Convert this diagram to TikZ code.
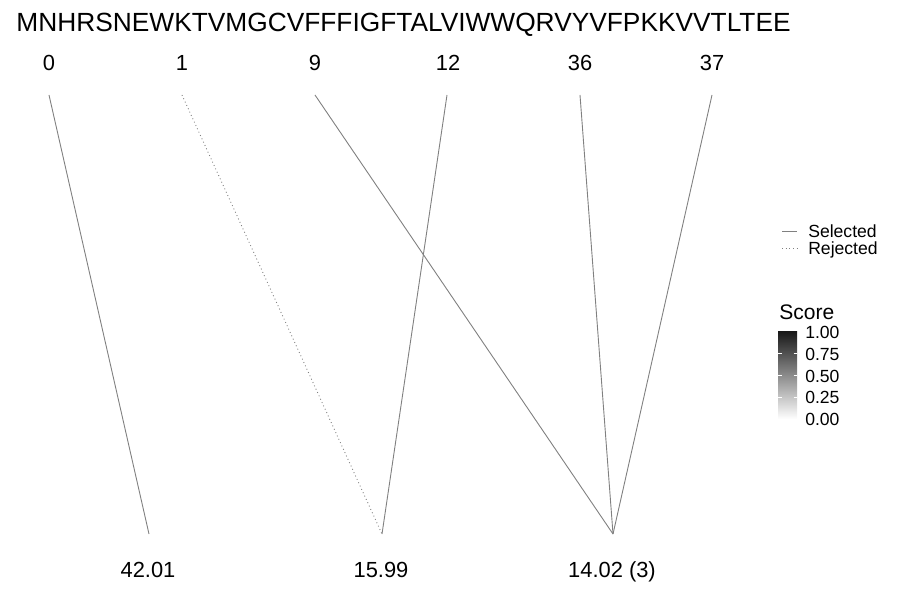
\documentclass[tikz,border=0pt]{standalone}
\usepackage{fontspec}
\setmainfont{Liberation Sans}
\begin{document}
\begin{tikzpicture}[x=0.01in, y=-0.01in,
  seq style/.style={inner sep=0pt, text depth=0pt, font=\fontsize{19}{21}\selectfont},
  pos style/.style={inner sep=0pt, text depth=0pt, font=\fontsize{15.8}{18}\selectfont},
  leg style/.style={inner sep=0pt, text depth=0pt, anchor=west, font=\fontsize{12.7}{14}\selectfont},
  sel/.style={draw=black!50, line width=0.65pt},
  rej/.style={draw=black!50, line width=0.65pt, dotted}]
	\useasboundingbox (0,0) rectangle (900,600);
	\node[seq style] (seq) at (403.5,22) {MNHRSNEWKTVMGCVFFFIGFTALVIWWQRVYVFPKKVVTLTEE};
	% positions
	\node[pos style] (P0) at (49,63) {0};
	\node[pos style] (P1) at (182,63) {1};
	\node[pos style] (P9) at (315,63) {9};
	\node[pos style] (P12) at (448,63) {12};
	\node[pos style] (P36) at (580,63) {36};
	\node[pos style] (P37) at (712,63) {37};
	\coordinate (T0) at (49,95);
	\coordinate (T1) at (182,95);
	\coordinate (T9) at (315,95);
	\coordinate (T12) at (447,95);
	\coordinate (T36) at (580,95);
	\coordinate (T37) at (712,95);
	% masses
	\node[pos style] (M1) at (148,570) {42.01};
	\node[pos style] (M2) at (381,570) {15.99};
	\node[pos style] (M3) at (612,570) {14.02 (3)};
	\coordinate (B1) at (149,534);
	\coordinate (B2) at (382,534);
	\coordinate (B3) at (613,534);
	\draw[sel] (T0) -- (B1);
	\draw[rej] (T1) -- (B2);
	\draw[sel] (T12) -- (B2);
	\draw[sel] (T9) -- (B3);
	\draw[sel] (T36) -- (B3);
	\draw[sel] (T37) -- (B3);
	% legend
	\coordinate (LS1) at (782,231);
	\coordinate (LS2) at (797,231);
	\coordinate (LR1) at (782,248);
	\coordinate (LR2) at (797,248);
	\draw[sel] (LS1) -- (LS2);
	\draw[rej] (LR1) -- (LR2);
	\node[leg style] (sel) at (808,231) {Selected};
	\node[leg style] (rej) at (808,248) {Rejected};
	\node[leg style, font=\fontsize{15.2}{17}\selectfont] (score) at (779,312) {Score};
	\shade[bottom color=white, top color=black!90] (778,332) rectangle (797,419);
	\foreach \y in {353.75,375.5,397.25} {
		\draw[white, line width=0.4pt] (778,\y) -- (781.5,\y);
		\draw[white, line width=0.4pt] (793.5,\y) -- (797,\y);
	}
	\node[leg style] (s100) at (805,332) {1.00};
	\node[leg style] (s075) at (805,354) {0.75};
	\node[leg style] (s050) at (805,376) {0.50};
	\node[leg style] (s025) at (805,397) {0.25};
	\node[leg style] (s000) at (805,419) {0.00};
\end{tikzpicture}
\end{document}
